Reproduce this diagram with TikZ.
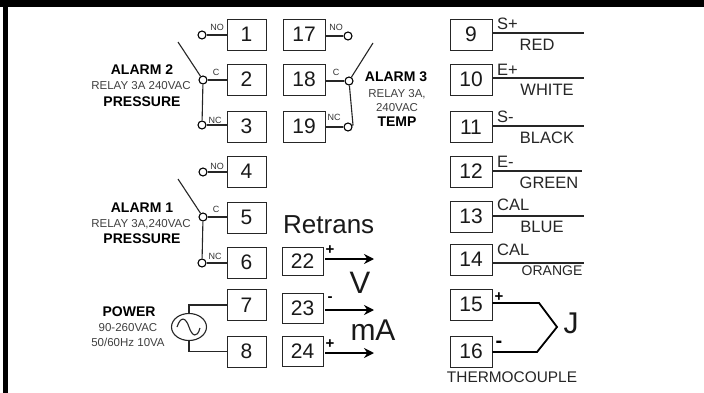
\documentclass[tikz,border=0pt]{standalone}
\usepackage{fontspec}
\setmainfont{Liberation Sans}
\usetikzlibrary{arrows.meta,shapes.geometric}
\newcommand{\fs}[1]{\fontsize{#1}{#1}\selectfont}
\tikzset{
  x=1pt,y=-1pt,
  term/.style={draw=black!85,line width=0.9pt,minimum width=39pt,minimum height=31pt,inner sep=0pt,font=\fs{21},text=black!90},
  contact/.style={draw=black,circle,line width=1.1pt,minimum size=8pt,inner sep=0pt,fill=white},
  wire/.style={draw=black!85,line width=1.1pt},
  lbl/.style={inner sep=0pt,font=\fs{9},text=black!80},
  big/.style={inner sep=0pt,font=\fs{14}\bfseries,text=black},
  small/.style={inner sep=0pt,font=\fs{11.5},text=black!75},
  col/.style={inner sep=0pt,font=\fs{16.5},text=black!85},
  sign/.style={inner sep=0pt,font=\fs{15}\bfseries,text=black},
  harrow/.style={draw=black,line width=2.3pt,-{Stealth[length=10pt,width=10pt]},shorten <=2pt},
  tc/.style={draw=black,line width=1.8pt,line join=miter},
  huge/.style={inner sep=0pt,text=black!90}
}
\begin{document}
\begin{tikzpicture}
\useasboundingbox (0,0) rectangle (704,393);
\fill[white] (0,0) rectangle (704,393);
\fill[black] (0,0) rectangle (704,7);
\fill[black] (3,0) rectangle (8,393);
% left column
\node[term] (t1) at (246.5,34.5) {1};
\node[term] (t2) at (246.5,79.5) {2};
\node[term] (t3) at (246.5,126.5) {3};
\node[term] (t4) at (246.5,171.5) {4};
\node[term] (t5) at (246.5,217.5) {5};
\node[term] (t6) at (246.5,262.5) {6};
\node[term] (t7) at (246.5,305) {7};
\node[term] (t8) at (246.5,351.5) {8};
% middle
\node[term,minimum width=42pt] (t17) at (304,34.5) {17};
\node[term,minimum width=42pt] (t18) at (304,79.5) {18};
\node[term,minimum width=42pt] (t19) at (304,126.5) {19};
\node[term,minimum width=41pt,minimum height=28pt] (t22) at (302.5,261) {22};
\node[term,minimum width=41pt,minimum height=30pt] (t23) at (302.5,308) {23};
\node[term,minimum width=41pt,minimum height=30pt] (t24) at (302.5,351) {24};
% right
\node[term,minimum width=42pt] (t9) at (471,34.5) {9};
\node[term,minimum width=42pt] (t10) at (471,79.5) {10};
\node[term,minimum width=42pt] (t11) at (471,127) {11};
\node[term,minimum width=42pt] (t12) at (471,171.5) {12};
\node[term,minimum width=42pt] (t13) at (471,216.5) {13};
\node[term,minimum width=42pt] (t14) at (471,259.5) {14};
\node[term,minimum width=42pt] (t15) at (471,304.5) {15};
\node[term,minimum width=42pt] (t16) at (471,351.5) {16};
% Alarm 2
\node[contact] (a2no) at (202,35) {};
\node[contact] (a2c) at (203,80) {};
\node[contact] (a2nc) at (202,125) {};
\coordinate (a2arm) at (178,42);
\draw[wire] (a2no) -- (a2no-|t1.west);
\draw[wire] (a2c) -- (a2c-|t2.west);
\draw[wire] (a2nc) -- (a2nc-|t3.west);
\draw[wire] (a2arm) -- (a2c);
\draw[wire] (a2c) -- (a2nc);
\node[lbl] (l1) at (217,27) {NO};
\node[lbl] (l2) at (216,72) {C};
\node[lbl] (l3) at (215,120) {NC};
\node[big] (a2a) at (142,70) {ALARM 2};
\node[small] (a2b) at (141,86) {RELAY 3A 240VAC};
\node[big] (a2d) at (142,102) {PRESSURE};
% Alarm 3
\node[contact] (a3no) at (348,36) {};
\node[contact] (a3c) at (349,81) {};
\node[contact] (a3nc) at (348,127) {};
\coordinate (a3arm) at (373,43);
\draw[wire] (a3no) -- (a3no-|t17.east);
\draw[wire] (a3c) -- (a3c-|t18.east);
\draw[wire] (a3nc) -- (a3nc-|t19.east);
\draw[wire] (a3arm) -- (a3c);
\draw[wire] (a3c) -- (353,125) -- (a3nc);
\node[lbl] (l4) at (336,27) {NO};
\node[lbl] (l5) at (336,72) {C};
\node[lbl] (l6) at (334,117) {NC};
\node[big] (a3a) at (396,77) {ALARM 3};
\node[small] (a3b) at (397,94) {RELAY 3A,};
\node[small] (a3d) at (397,108) {240VAC};
\node[big] (a3e) at (397,122) {TEMP};
% Alarm 1
\node[contact] (a1no) at (203,172) {};
\node[contact] (a1c) at (203,217) {};
\node[contact] (a1nc) at (202,263) {};
\coordinate (a1arm) at (178,179);
\draw[wire] (a1no) -- (a1no-|t4.west);
\draw[wire] (a1c) -- (a1c-|t5.west);
\draw[wire] (a1nc) -- (a1nc-|t6.west);
\draw[wire] (a1arm) -- (a1c);
\draw[wire] (a1c) -- (a1nc);
\node[lbl] (l7) at (217,166) {NO};
\node[lbl] (l8) at (216,209) {C};
\node[lbl] (l9) at (215,256) {NC};
\node[big] (a1a) at (142,208) {ALARM 1};
\node[small] (a1b) at (141,224) {RELAY 3A,240VAC};
\node[big] (a1d) at (142,239) {PRESSURE};
% Power
\node[big] (p1) at (129,312) {POWER};
\node[small] (p2) at (128,328) {90-260VAC};
\node[small] (p3) at (128,342) {50/60Hz 10VA};
\node[draw=black!85,line width=1.1pt,ellipse,minimum width=35pt,minimum height=27pt,inner sep=0pt] (ac) at (189,327) {};
\draw[wire] (ac.north) -- (ac.north|-t7.west) -- (t7.west);
\draw[wire] (ac.south) -- (ac.south|-t8.west) -- (t8.west);
\draw[wire] (177,327) .. controls (181,315) and (186,318) .. (189,327) .. controls (192,336) and (197,339) .. (200,328);
% Retrans
\node[huge,font=\fs{26},anchor=base west] (rt) at (283,233) {Retrans};
\node[huge,font=\fs{31}] (vv) at (360,283) {V};
\node[huge,font=\fs{30}] (ma) at (373,330) {mA};
\coordinate (e22) at (374,259);
\coordinate (e23) at (374,310);
\coordinate (e24) at (374,353);
\draw[harrow] (t22.east|-e22) -- (e22);
\draw[harrow] (t23.east|-e23) -- (e23);
\draw[harrow] (t24.east|-e24) -- (e24);
\node[sign] (s1) at (330,250) {+};
\node[sign] (s2) at (330,299) {-};
\node[sign] (s3) at (330,344) {+};
% Right lines
\coordinate (e9) at (584,33);
\coordinate (e10) at (584,78);
\coordinate (e11) at (584,126);
\coordinate (e12) at (582,171);
\coordinate (e13) at (584,216);
\coordinate (e14) at (584,263);
\draw[wire] (t9.east|-e9) -- (e9);
\draw[wire] (t10.east|-e10) -- (e10);
\draw[wire] (t11.east|-e11) -- (e11);
\draw[wire] (t12.east|-e12) -- (e12);
\draw[wire] (t13.east|-e13) -- (e13);
\draw[wire,line width=1.5pt] (t14.east|-e14) -- (e14);
\node[col,anchor=west] (c1) at (497,24) {S+};
\node[col] (c2) at (537,45) {RED};
\node[col,anchor=west] (c3) at (497,70) {E+};
\node[col] (c4) at (547,90) {WHITE};
\node[col,anchor=west] (c5) at (497,117) {S-};
\node[col] (c6) at (547,138) {BLACK};
\node[col,anchor=west] (c7) at (497,162) {E-};
\node[col] (c8) at (549,183) {GREEN};
\node[col,anchor=west] (c9) at (497,205) {CAL};
\node[col] (c10) at (542,227) {BLUE};
\node[col,anchor=west] (c11) at (497,250) {CAL};
\node[col,font=\fs{14}] (c12) at (552,271) {ORANGE};
% Thermocouple
\coordinate (j1) at (539,303);
\coordinate (j2) at (557,327);
\coordinate (j3) at (537,352);
\draw[tc] (t15.east|-j1) -- (j1) -- (j2) -- (j3) -- (t16.east|-j3);
\node[sign] (s4) at (499,297) {+};
\node[sign,font=\fs{20}\bfseries] (s5) at (499,344) {-};
\node[huge,font=\fs{30}] (jj) at (571,323) {J};
\node[col,font=\fs{15.4}] (th) at (512,377) {THERMOCOUPLE};
\end{tikzpicture}
\end{document}
